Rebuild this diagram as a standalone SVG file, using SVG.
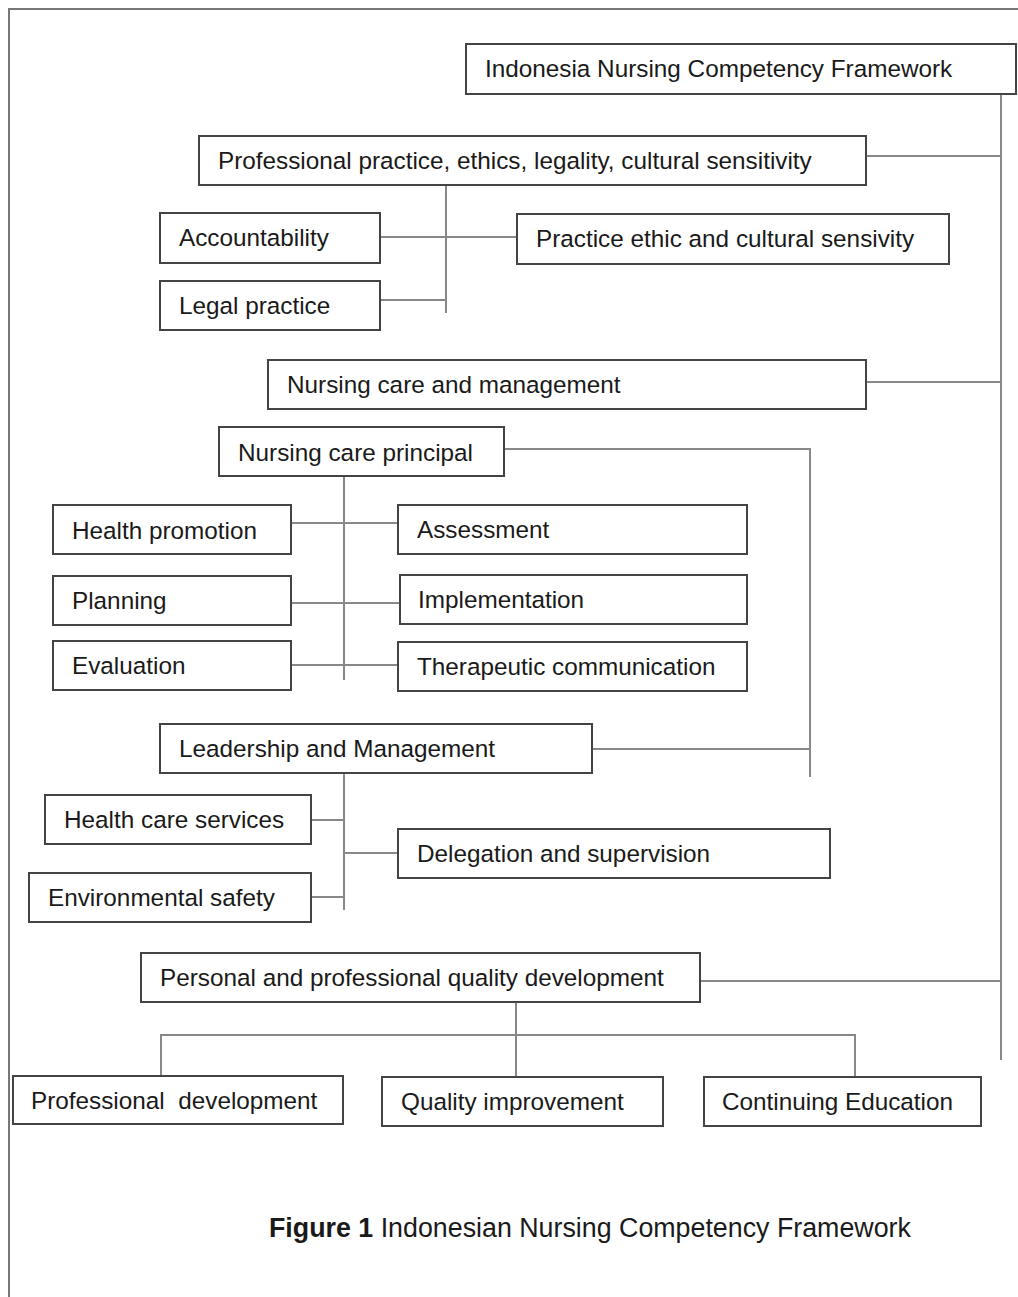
<svg xmlns="http://www.w3.org/2000/svg" width="1018" height="1297" viewBox="0 0 1018 1297">
<style>
.box{fill:#fff;stroke:#444;stroke-width:2}
.t{font-family:"Liberation Sans",Arial,sans-serif;font-size:24.3px;fill:#1a1a1a}
.cap{font-family:"Liberation Sans",Arial,sans-serif;font-size:26.8px;fill:#1a1a1a}
.c{fill:none;stroke:#888;stroke-width:2}
.frame{fill:none;stroke:#777;stroke-width:2}
</style>
<rect width="1018" height="1297" fill="#fff"/>
<path class="frame" d="M9,1297 V9 H1018"/>
<g id="connectors">
<path class="c" d="M1001,94 V1060"/>
<path class="c" d="M866,156 H1001"/>
<path class="c" d="M446,182 V313"/>
<path class="c" d="M380,237 H517"/>
<path class="c" d="M380,300 H446"/>
<path class="c" d="M866,382 H1001"/>
<path class="c" d="M504,449 H810 V777"/>
<path class="c" d="M344,470 V680"/>
<path class="c" d="M291,523 H398"/>
<path class="c" d="M291,603 H400"/>
<path class="c" d="M291,665 H398"/>
<path class="c" d="M592,749 H810"/>
<path class="c" d="M344,766 V910"/>
<path class="c" d="M311,820 H344"/>
<path class="c" d="M344,853 H398"/>
<path class="c" d="M311,897 H344"/>
<path class="c" d="M700,981 H1001"/>
<path class="c" d="M516,996 V1084"/>
<path class="c" d="M161,1082 V1035 H855 V1081"/>
</g>
<g id="n-root"><rect class="box" x="466" y="44" width="550" height="50"/><text class="t" x="485" y="77">Indonesia Nursing Competency Framework</text></g>
<g id="n-prof"><rect class="box" x="199" y="136" width="667" height="49"/><text class="t" x="218" y="169">Professional practice, ethics, legality, cultural sensitivity</text></g>
<g id="n-acc"><rect class="box" x="160" y="213" width="220" height="50"/><text class="t" x="179" y="246">Accountability</text></g>
<g id="n-ethic"><rect class="box" x="517" y="214" width="432" height="50"/><text class="t" x="536" y="247">Practice ethic and cultural sensivity</text></g>
<g id="n-legal"><rect class="box" x="160" y="281" width="220" height="49"/><text class="t" x="179" y="314">Legal practice</text></g>
<g id="n-ncm"><rect class="box" x="268" y="360" width="598" height="49"/><text class="t" x="287" y="393">Nursing care and management</text></g>
<g id="n-ncp"><rect class="box" x="219" y="427" width="285" height="49"/><text class="t" x="238" y="461">Nursing care principal</text></g>
<g id="n-hp"><rect class="box" x="53" y="505" width="238" height="49"/><text class="t" x="72" y="539">Health promotion</text></g>
<g id="n-ass"><rect class="box" x="398" y="505" width="349" height="49"/><text class="t" x="417" y="538">Assessment</text></g>
<g id="n-plan"><rect class="box" x="53" y="576" width="238" height="49"/><text class="t" x="72" y="609">Planning</text></g>
<g id="n-impl"><rect class="box" x="400" y="575" width="347" height="49"/><text class="t" x="418" y="608">Implementation</text></g>
<g id="n-eval"><rect class="box" x="53" y="641" width="238" height="49"/><text class="t" x="72" y="674">Evaluation</text></g>
<g id="n-ther"><rect class="box" x="398" y="642" width="349" height="49"/><text class="t" x="417" y="675">Therapeutic communication</text></g>
<g id="n-lead"><rect class="box" x="160" y="724" width="432" height="49"/><text class="t" x="179" y="757">Leadership and Management</text></g>
<g id="n-hcs"><rect class="box" x="45" y="795" width="266" height="49"/><text class="t" x="64" y="828">Health care services</text></g>
<g id="n-del"><rect class="box" x="398" y="829" width="432" height="49"/><text class="t" x="417" y="862">Delegation and supervision</text></g>
<g id="n-env"><rect class="box" x="29" y="873" width="282" height="49"/><text class="t" x="48" y="906">Environmental safety</text></g>
<g id="n-ppqd"><rect class="box" x="141" y="953" width="559" height="49"/><text class="t" x="160" y="986">Personal and professional quality development</text></g>
<g id="n-pd"><rect class="box" x="13" y="1076" width="330" height="48"/><text class="t" x="31" y="1109" xml:space="preserve">Professional  development</text></g>
<g id="n-qi"><rect class="box" x="382" y="1077" width="281" height="49"/><text class="t" x="401" y="1110">Quality improvement</text></g>
<g id="n-ce"><rect class="box" x="704" y="1077" width="277" height="49"/><text class="t" x="722" y="1110">Continuing Education</text></g>
<text class="cap" x="269" y="1237"><tspan font-weight="bold">Figure 1</tspan> Indonesian Nursing Competency Framework</text>
</svg>
